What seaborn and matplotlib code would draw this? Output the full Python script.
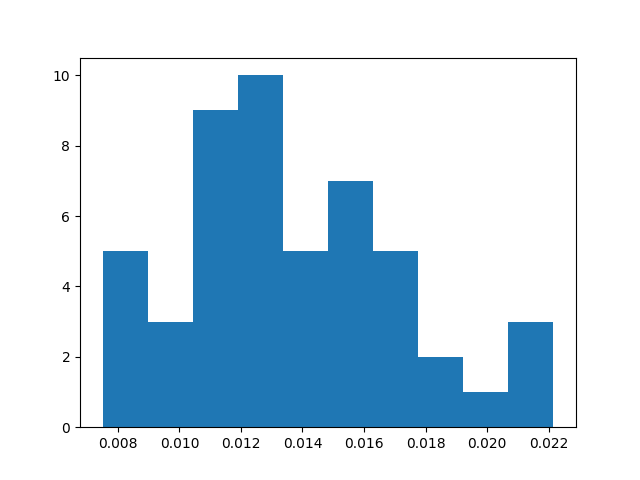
import numpy as np
import matplotlib
matplotlib.use("Agg")
import matplotlib.pyplot as plt
import seaborn as sns

# --- data ---
data_min = 0.0075
data_max = 0.02216
counts = [5, 3, 9, 10, 5, 7, 5, 2, 1, 3]

# bin centres of the 10 equal-width bins
n_bins = len(counts)
edges = np.linspace(data_min, data_max, n_bins + 1)
centres = (edges[:-1] + edges[1:]) / 2

fig, ax = plt.subplots(figsize=(6.4, 4.8), dpi=100)
sns.histplot(x=centres, weights=counts, bins=n_bins, binrange=(data_min, data_max),
             color="#1f77b4", alpha=1, edgecolor="none", linewidth=0, ax=ax)
ax.set_xlabel("")
ax.set_ylabel("")

fig.savefig("out.png", dpi=100)
